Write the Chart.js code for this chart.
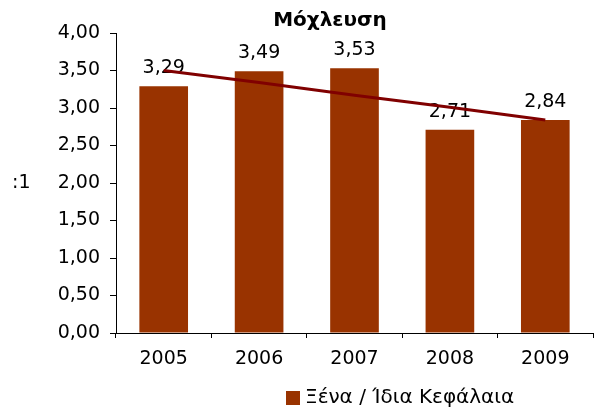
<!DOCTYPE html>
<html>
<head>
<meta charset="utf-8">
<script src="https://cdn.jsdelivr.net/npm/chart.js@4"></script>
<style>
  body { margin: 0; background: #fff; }
  #wrap { width: 603px; height: 409px; }
</style>
</head>
<body>
<div id="wrap"><canvas id="myChart" width="603" height="409"></canvas></div>
<script>
const years = ['2005', '2006', '2007', '2008', '2009'];
const leverage = [3.29, 3.49, 3.53, 2.71, 2.84];
// trend line
const trend = [3.50, 3.34, 3.17, 3.01, 2.84];
const yTicks = [0, 0.5, 1, 1.5, 2, 2.5, 3, 3.5, 4];

const titleText = 'Μόχλευση';
const seriesName = 'Ξένα / Ίδια Κεφάλαια';
const unitText = ':1';

const font = 'DejaVu Sans';
const barColor = '#993300';
const lineColor = '#800000';

function comma(v) {
  return v.toFixed(2).replace('.', ',');
}

// value labels above the bars
const barLabels = {
  id: 'barLabels',
  afterDatasetDraw(chart, args) {
    if (args.index !== 1) return;
    const ctx = chart.ctx;
    ctx.save();
    ctx.font = '19px "' + font + '"';
    ctx.fillStyle = '#000';
    ctx.textAlign = 'center';
    ctx.textBaseline = 'middle';
    args.meta.data.forEach((bar, i) => {
      ctx.fillText(comma(leverage[i]), bar.x, bar.y - 18);
    });
    ctx.restore();
  }
};

// title, unit text and legend
const extras = {
  id: 'extras',
  afterDraw(chart) {
    const ctx = chart.ctx;
    ctx.save();
    ctx.fillStyle = '#000';
    ctx.textBaseline = 'middle';
    ctx.font = 'bold 20px "' + font + '"';
    ctx.textAlign = 'center';
    ctx.fillText(titleText, 330, 21);

    ctx.font = '19px "' + font + '"';
    ctx.textAlign = 'left';
    ctx.fillText(unitText, 12, 183);

    ctx.fillStyle = barColor;
    ctx.fillRect(286, 391, 14, 14);
    ctx.fillStyle = '#000';
    ctx.font = '20px "' + font + '"';
    ctx.fillText(chart.data.datasets[1].label, 305, 398);
    ctx.restore();
  }
};

const data = {
  labels: years,
  datasets: [
    {
      type: 'line',
      label: 'trend',
      data: trend,
      borderColor: lineColor,
      borderWidth: 3,
      pointRadius: 0,
      fill: false,
      order: 0
    },
    {
      type: 'bar',
      label: seriesName,
      data: leverage,
      backgroundColor: barColor,
      barPercentage: 1,
      categoryPercentage: 0.51,
      order: 1
    }
  ]
};

const config = {
  type: 'bar',
  data: data,
  options: {
    responsive: false,
    animation: false,
    layout: { padding: { left: 10, right: 10, top: 33, bottom: 0 } },
    plugins: {
      legend: { display: false },
      title: { display: false },
      tooltip: { enabled: false }
    },
    scales: {
      x: {
        grid: { drawOnChartArea: false, drawTicks: true, tickLength: 5, color: '#000', offset: true },
        border: { color: '#000', width: 1 },
        ticks: { color: '#000', padding: 10, font: { family: font, size: 19 } },
        afterFit(s) { s.height = 76; }
      },
      y: {
        min: 0,
        max: 4,
        afterBuildTicks(s) { s.ticks = yTicks.map(v => ({ value: v })); },
        grid: { drawOnChartArea: false, drawTicks: true, tickLength: 6, color: '#000' },
        border: { color: '#000', width: 1 },
        ticks: {
          color: '#000',
          padding: 10,
          font: { family: font, size: 19 },
          callback: v => comma(v)
        },
        afterFit(s) { s.width = 106; }
      }
    }
  },
  plugins: [barLabels, extras]
};

const myChart = new Chart(document.getElementById('myChart'), config);
</script>
</body>
</html>
